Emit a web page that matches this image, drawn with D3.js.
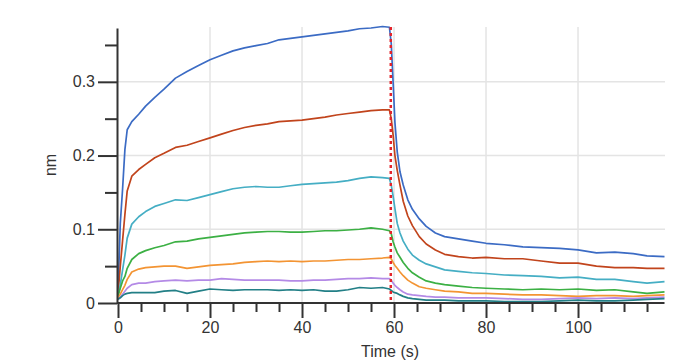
<!DOCTYPE html>
<html>
<head>
<meta charset="utf-8">
<script src="https://cdn.jsdelivr.net/npm/d3@7"></script>
<style>
  body { margin: 0; background: #fff; }
  svg { display: block; font-family: "Liberation Sans", Arial, sans-serif; }
</style>
</head>
<body>
<div id="chart"></div>
<script>
// sample times (s), shared by all curves
const timePoints = [
  0, 0.5, 1, 1.5, 2, 3, 4.5, 6, 8, 10, 12.5, 15, 17.5, 20, 22.5, 25, 27.5, 30,
  32.5, 35, 37.5, 40, 42.5, 45, 47.5, 50, 52.5, 55, 57.5, 59,
  59.4, 59.8, 60.2, 60.7, 61.3, 62, 63, 64, 65.5, 67, 69, 71, 74, 77, 80, 84,
  88, 92, 96, 100, 104, 108, 112, 115, 118.8
];

// response (nm) per concentration, highest first
const blueValues = [
  0.015, 0.108, 0.155, 0.208, 0.235, 0.246, 0.256, 0.267, 0.279, 0.290, 0.305, 0.314, 0.322, 0.330, 0.336, 0.342, 0.346, 0.349,
  0.352, 0.357, 0.359, 0.361, 0.363, 0.365, 0.367, 0.369, 0.372, 0.373, 0.375, 0.374,
  0.352, 0.300, 0.245, 0.205, 0.178, 0.160, 0.140, 0.127, 0.114, 0.104, 0.095, 0.090, 0.087, 0.084, 0.081, 0.079,
  0.076, 0.075, 0.074, 0.072, 0.068, 0.069, 0.067, 0.064, 0.063
];
const redValues = [
  0.012, 0.050, 0.085, 0.120, 0.152, 0.172, 0.181, 0.188, 0.197, 0.203, 0.211, 0.214, 0.219, 0.224, 0.229, 0.234, 0.238, 0.241,
  0.243, 0.246, 0.247, 0.248, 0.250, 0.252, 0.255, 0.257, 0.259, 0.261, 0.262, 0.262,
  0.250, 0.228, 0.200, 0.180, 0.160, 0.138, 0.118, 0.105, 0.090, 0.080, 0.072, 0.066, 0.063, 0.061, 0.062, 0.060,
  0.060, 0.057, 0.054, 0.054, 0.050, 0.048, 0.048, 0.047, 0.047
];
const cyanValues = [
  0.010, 0.025, 0.045, 0.065, 0.088, 0.107, 0.117, 0.124, 0.131, 0.135, 0.140, 0.139, 0.143, 0.147, 0.151, 0.155, 0.157, 0.158,
  0.157, 0.157, 0.159, 0.161, 0.162, 0.163, 0.164, 0.166, 0.169, 0.171, 0.170, 0.169,
  0.160, 0.145, 0.128, 0.108, 0.095, 0.084, 0.073, 0.065, 0.058, 0.053, 0.049, 0.045, 0.043, 0.041, 0.040, 0.038,
  0.037, 0.036, 0.034, 0.035, 0.032, 0.032, 0.029, 0.027, 0.029
];
const greenValues = [
  0.010, 0.020, 0.030, 0.036, 0.047, 0.059, 0.067, 0.071, 0.075, 0.078, 0.083, 0.084, 0.087, 0.089, 0.091, 0.093, 0.095, 0.096,
  0.097, 0.097, 0.096, 0.096, 0.097, 0.098, 0.098, 0.099, 0.100, 0.102, 0.100, 0.098,
  0.094, 0.083, 0.076, 0.068, 0.062, 0.055, 0.047, 0.041, 0.035, 0.030, 0.027, 0.025, 0.023, 0.021, 0.020, 0.019,
  0.018, 0.019, 0.018, 0.019, 0.017, 0.018, 0.015, 0.013, 0.015
];
const orangeValues = [
  0.007, 0.012, 0.018, 0.024, 0.032, 0.042, 0.046, 0.048, 0.049, 0.050, 0.050, 0.047, 0.049, 0.051, 0.052, 0.053, 0.055, 0.056,
  0.057, 0.056, 0.057, 0.056, 0.057, 0.057, 0.058, 0.059, 0.059, 0.060, 0.061, 0.062,
  0.060, 0.055, 0.051, 0.047, 0.042, 0.037, 0.031, 0.027, 0.022, 0.020, 0.018, 0.016, 0.015, 0.013, 0.013, 0.012,
  0.011, 0.011, 0.010, 0.009, 0.010, 0.010, 0.009, 0.010, 0.011
];
const purpleValues = [
  0.005, 0.008, 0.012, 0.016, 0.020, 0.025, 0.027, 0.027, 0.029, 0.030, 0.031, 0.030, 0.031, 0.031, 0.033, 0.032, 0.031, 0.031,
  0.031, 0.031, 0.030, 0.030, 0.031, 0.031, 0.032, 0.033, 0.033, 0.034, 0.033, 0.033,
  0.031, 0.027, 0.024, 0.021, 0.018, 0.015, 0.012, 0.011, 0.010, 0.009, 0.008, 0.008, 0.007, 0.007, 0.007, 0.006,
  0.005, 0.005, 0.006, 0.007, 0.006, 0.007, 0.006, 0.007, 0.008
];
const tealValues = [
  0.005, 0.007, 0.010, 0.012, 0.013, 0.014, 0.014, 0.014, 0.014, 0.016, 0.017, 0.013, 0.016, 0.019, 0.018, 0.017, 0.018, 0.018,
  0.018, 0.017, 0.018, 0.017, 0.018, 0.016, 0.016, 0.018, 0.021, 0.020, 0.021, 0.019,
  0.017, 0.015, 0.014, 0.013, 0.011, 0.009, 0.007, 0.006, 0.005, 0.004, 0.004, 0.004, 0.003, 0.003, 0.003, 0.002,
  0.002, 0.002, 0.003, 0.004, 0.003, 0.003, 0.004, 0.005, 0.006
];

const seriesValues = [blueValues, redValues, cyanValues, greenValues, orangeValues, purpleValues, tealValues];
const seriesColors = ["#3b6bc4", "#c1441c", "#45aec4", "#3cb044", "#f39433", "#b48ae6", "#227f86"];

const xMajorTicks = [0, 20, 40, 60, 80, 100];
const xMinorTicks = d3.range(0, 119, 5);
const yMajorTicks = [0, 0.1, 0.2, 0.3];
const yMinorTicks = [0.05, 0.15, 0.25, 0.35];
const dissociationStart = 59.3;

const width = 690, height = 364;

const svg = d3.select("#chart")
  .append("svg")
  .attr("width", width)
  .attr("height", height);

const x = d3.scaleLinear().domain([0, 118.8]).range([118, 664.5]);
const y = d3.scaleLinear().domain([0, 0.373]).range([303, 28]);

// grid
svg.append("g")
  .selectAll("line")
  .data([20, 40, 60, 80, 100])
  .join("line")
  .attr("x1", (d) => x(d)).attr("x2", (d) => x(d))
  .attr("y1", y(0)).attr("y2", 27)
  .attr("stroke", "#e4e4e4")
  .attr("stroke-width", 1.5);

svg.append("g")
  .selectAll("line")
  .data([0.1, 0.2, 0.3])
  .join("line")
  .attr("x1", x(0)).attr("x2", 665)
  .attr("y1", (d) => y(d)).attr("y2", (d) => y(d))
  .attr("stroke", "#e4e4e4")
  .attr("stroke-width", 1.5);

// curves
const line = d3.line()
  .x((d, i) => x(timePoints[i]))
  .y((d) => y(d));

svg.append("g")
  .selectAll("path")
  .data(seriesValues)
  .join("path")
  .attr("d", line)
  .attr("fill", "none")
  .attr("stroke", (d, i) => seriesColors[i])
  .attr("stroke-width", 1.7)
  .attr("stroke-linejoin", "round");

// start of dissociation
svg.append("line")
  .attr("x1", x(dissociationStart)).attr("x2", x(dissociationStart))
  .attr("y1", 27).attr("y2", y(0))
  .attr("stroke", "#e3242b")
  .attr("stroke-width", 2.5)
  .attr("stroke-dasharray", "3,3");

// axes
const styleAxis = (g) => {
  g.selectAll("path, line").attr("stroke", "#333").attr("stroke-width", 2);
  g.selectAll("text")
    .attr("fill", "#333")
    .style("font-size", "16px")
    .style("font-family", "'Liberation Sans', Arial, sans-serif");
};

svg.append("g")
  .attr("transform", `translate(117,0)`)
  .call(d3.axisLeft(y).tickValues(yMinorTicks).tickSize(12).tickSizeOuter(0).tickFormat(""))
  .call(styleAxis);

svg.append("g")
  .attr("transform", `translate(117,0)`)
  .call(d3.axisLeft(y).tickValues(yMajorTicks).tickSize(19).tickSizeOuter(0).tickPadding(3)
    .tickFormat((d) => (d === 0 ? "0" : d3.format(".1f")(d))))
  .call(styleAxis)
  .call((g) => g.select(".domain").remove());

const xAxisRange = [117, 664.5];
svg.append("g")
  .attr("transform", `translate(0,303)`)
  .call(d3.axisBottom(x).tickValues(xMinorTicks.filter((d) => d % 20 !== 0)).tickSize(9).tickSizeOuter(0).tickFormat(""))
  .call(styleAxis)
  .call((g) => g.select(".domain").attr("d", `M${xAxisRange[0]},0H${xAxisRange[1]}`));

svg.append("g")
  .attr("transform", `translate(0,303)`)
  .call(d3.axisBottom(x).tickValues(xMajorTicks).tickSize(15).tickSizeOuter(0).tickPadding(4))
  .call(styleAxis)
  .call((g) => g.select(".domain").remove());

// axis titles
svg.append("text")
  .attr("transform", "translate(56,165) rotate(-90)")
  .attr("text-anchor", "middle")
  .attr("fill", "#333")
  .style("font-size", "16px")
  .text("nm");

svg.append("text")
  .attr("x", 390)
  .attr("y", 357)
  .attr("text-anchor", "middle")
  .attr("fill", "#333")
  .style("font-size", "16px")
  .text("Time (s)");
</script>
</body>
</html>
